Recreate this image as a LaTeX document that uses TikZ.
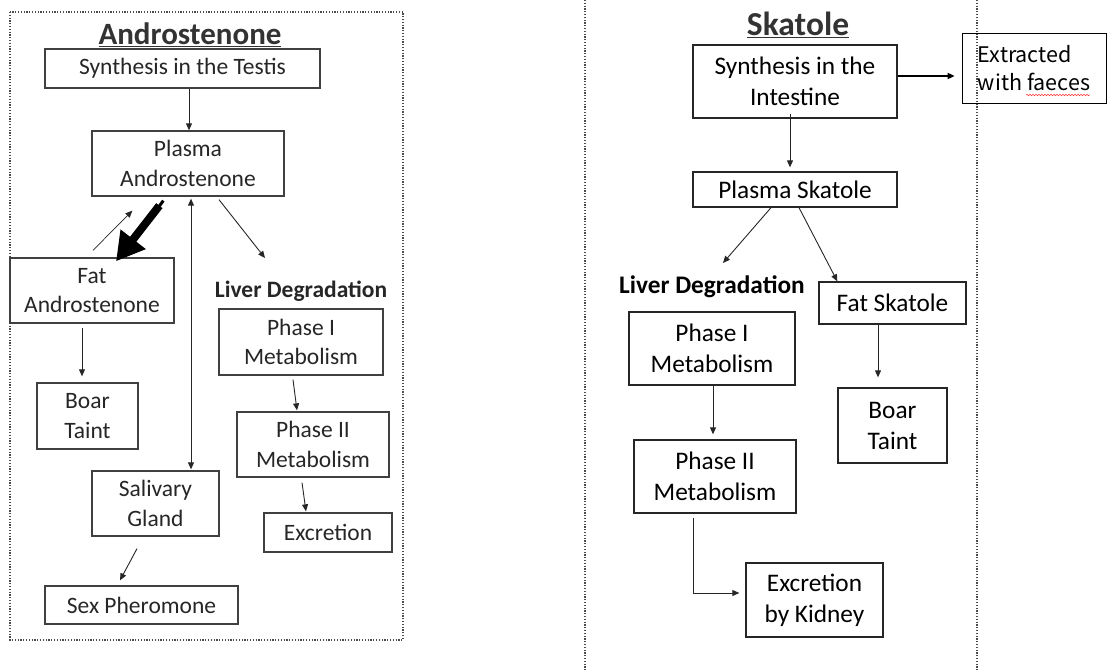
\documentclass[tikz,border=0pt]{standalone}
\usepackage{fontspec}
\setmainfont{Carlito}
\newfontfamily\korfont{Noto Sans CJK KR}
\usetikzlibrary{arrows.meta,calc,decorations.pathmorphing}
\begin{document}
\begin{tikzpicture}[x=1pt,y=-1pt,
  lbox/.style={draw=black!75,line width=1.3pt,inner sep=0pt,align=center,text=black!85,font=\fontsize{23.5}{29.5}\selectfont},
  rbox/.style={draw=black!85,line width=1.3pt,inner sep=0pt,align=center,font=\fontsize{25.3}{31}\selectfont},
  lbl/.style={inner sep=0pt,font=\bfseries\fontsize{23.5}{26}\selectfont},
  ttl/.style={inner sep=0pt,font=\bfseries\fontsize{31}{34}\selectfont},
  arr/.style={-{Triangle[length=7pt,width=6pt]},line width=0.9pt,black!85},
  thick arr/.style={-{Triangle[length=28pt,width=30pt]},line width=8pt,black},
  border/.style={black!70,line width=1.2pt,dash pattern=on 1.2pt off 1.6pt}
]
\useasboundingbox (0,0) rectangle (1112,671);
% borders
\draw[border] (10,12) rectangle (403,640);
\draw[border] (585,0) -- (585,671);
\draw[border] (977,0) -- (977,671);
% ---------- Androstenone ----------
\node[ttl,text=black!80] (ttlA) at (190,35) {\underline{Androstenone}};
\node[lbox,minimum width=275,minimum height=39] (synT) at (182.5,68.5) {Synthesis in the Testis};
\node[lbox,minimum width=192,minimum height=65] (plA) at (188,163.5) {Plasma\\Androstenone};
\node[lbox,minimum width=164,minimum height=65] (fatA) at (92,290.5) {Fat\\Androstenone};
\node[lbox,minimum width=101,minimum height=66] (boarA) at (87.5,416) {Boar\\Taint};
\node[lbox,minimum width=127,minimum height=65] (sal) at (155.5,503.5) {Salivary\\Gland};
\node[lbox,minimum width=193,minimum height=38] (sex) at (141.5,605) {Sex Pheromone};
\node[lbl,text=black!85] (liverA) at (301,291) {Liver Degradation};
\node[lbox,minimum width=164,minimum height=66] (ph1A) at (301,342) {Phase I\\Metabolism};
\node[lbox,minimum width=152,minimum height=65] (ph2A) at (313,444.5) {Phase II\\Metabolism};
\node[lbox,minimum width=128,minimum height=39] (excA) at (328,532.5) {Excretion};
\draw[arr] ($(synT.south)+(6.5,0)$) -- ($(plA.north)+(1,0)$);
\draw[arr,{Triangle[length=7pt,width=6pt]}-{Triangle[length=7pt,width=6pt]}] ($(plA.south)+(3,2)$) -- ($(sal.north)+(35.5,-1)$);
\draw[arr] ($(plA.south)+(31,3)$) -- ($(liverA.center)+(-36,-33)$);
\draw[arr,line width=0.7pt] ($(fatA.north)+(1,-7)$) -- ($(plA.south west)+(41,14)$);
\draw[black,line width=3pt] ($(plA.south west)+(72,4)$) -- ($(plA.south west)+(66,12)$);
\draw[thick arr] ($(plA.south west)+(68,9)$) -- ($(fatA.north)+(24,4)$);
\draw[arr] ($(fatA.south)+(-10,4)$) -- ($(boarA.north)+(-5.5,-6)$);
\draw[arr] ($(ph1A.south)+(-8,4)$) -- ($(ph2A.north)+(-16,-1)$);
\draw[arr] ($(ph2A.south)+(-11,5)$) -- ($(excA.north)+(-22,-1)$);
\draw[arr] ($(sal.south)+(-18.5,12)$) -- ($(sex.north)+(-21.5,-5)$);
% ---------- Skatole ----------
\node[ttl,text=black!80,font=\bfseries\fontsize{33.5}{36}\selectfont] (ttlS) at (798,25) {\underline{Skatole}};
\node[rbox,minimum width=204,minimum height=73] (synI) at (795,81.5) {Synthesis in the\\Intestine};
\node[draw=black,line width=0.8pt,inner sep=0pt,minimum width=144,minimum height=70,align=left,font=\korfont\fontsize{21.5}{28}\selectfont] (ext) at (1034,68) {Extracted\\with faeces};
\node[rbox,minimum width=204,minimum height=35] (plS) at (795,189.5) {Plasma Skatole};
\node[lbl,font=\bfseries\fontsize{25.3}{28}\selectfont] (liverS) at (712,287) {Liver Degradation};
\node[rbox,minimum width=147,minimum height=42] (fatS) at (892.5,303) {Fat Skatole};
\node[rbox,minimum width=166,minimum height=73] (ph1S) at (712,348.5) {Phase I\\Metabolism};
\node[rbox,minimum width=162,minimum height=73] (ph2S) at (715,476.5) {Phase II\\Metabolism};
\node[rbox,minimum width=137,minimum height=74] (excS) at (814.5,600) {Excretion\\by Kidney};
\node[rbox,minimum width=109,minimum height=75] (boarS) at (892.5,425.5) {Boar\\Taint};
\draw[arr,line width=1.8pt,black] ($(synI.east)+(0,-5.5)$) -- ($(ext.west)+(-7,8)$);
\draw[arr] ($(synI.south)+(-5,-5)$) -- ($(plS.north)+(-5,-4)$);
\draw[arr] ($(plS.south)+(-24,0)$) -- ($(liverS.center)+(11,-24)$);
\draw[arr] ($(plS.south)+(4,0)$) -- ($(fatS.north west)+(19,0)$);
\draw[arr] ($(ph1S.south)+(1,0)$) -- ($(ph2S.north)+(-2,-5)$);
\draw[arr] ($(fatS.south)+(-14.5,0)$) -- ($(boarS.north)+(-14.5,-10)$);
\draw[arr] ($(ph2S.south)+(-22,4)$) |- ($(excS.west)+(-6,-7)$);
\draw[red!80,line width=0.5pt,decorate,decoration={snake,amplitude=0.8pt,segment length=3pt}] (1026,95) -- (1090,95);
\end{tikzpicture}
\end{document}
